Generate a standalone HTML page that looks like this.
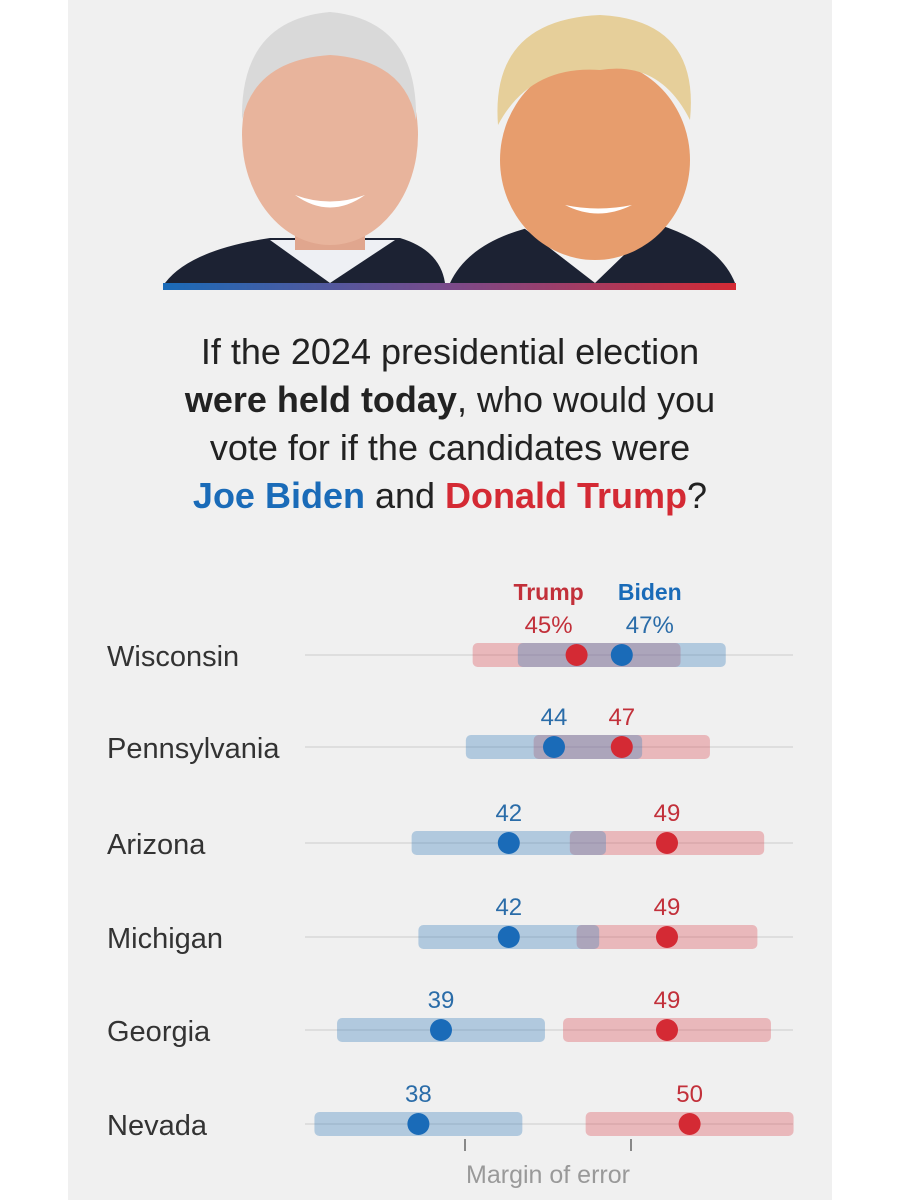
<!DOCTYPE html>
<html><head><meta charset="utf-8"><style>
body{margin:0;background:#fff;font-family:"Liberation Sans",sans-serif}
#wrap{position:relative;width:900px;height:1200px;background:#fff;overflow:hidden}
#panel{position:absolute;left:68px;top:0;width:764px;height:1200px;background:#f0f0f0}
.title{position:absolute;left:68px;width:764px;top:328px;text-align:center;font-size:36px;line-height:48px;color:#222}
</style></head><body>
<div id="wrap">
<div id="panel"></div>
<svg width="900" height="300" style="position:absolute;left:0;top:0">
<defs><linearGradient id="g" x1="0" x2="1"><stop offset="0" stop-color="#1a6bb8"/><stop offset="0.5" stop-color="#7a4a8a"/><stop offset="1" stop-color="#d42a34"/></linearGradient></defs>
<g>
<path d="M165 283 Q190 250 270 238 L400 238 Q440 250 445 283Z" fill="#1c2233"/>
<path d="M270 240 L330 283 L395 240Z" fill="#eef0f4"/>
<rect x="295" y="200" width="70" height="50" fill="#e0a68e"/>
<ellipse cx="330" cy="135" rx="88" ry="110" fill="#e8b49c"/>
<path d="M242 120 Q240 20 330 12 Q418 20 416 120 Q405 60 330 55 Q255 60 242 120Z" fill="#d9d9d9"/>
<path d="M295 195 Q330 220 365 195 Q330 208 295 195Z" fill="#fff"/>
</g>
<g>
<path d="M450 283 Q470 240 540 225 L660 225 Q720 245 735 283Z" fill="#1c2233"/>
<path d="M520 225 L595 283 L655 225Z" fill="#f2f2f2"/>
<ellipse cx="595" cy="160" rx="95" ry="100" fill="#e79d6d"/>
<path d="M498 125 Q490 20 600 15 Q700 20 690 120 Q660 60 600 70 Q530 65 498 125Z" fill="#e6cf9a"/>
<path d="M565 205 Q598 222 632 205 Q598 212 565 205Z" fill="#fff"/>
</g>
<rect x="163" y="283" width="573" height="7" fill="url(#g)"/>
</svg>
<div class="title">If the 2024 presidential election<br><b>were held today</b>, who would you<br>vote for if the candidates were<br><b style="color:#1a6bb8">Joe Biden</b> and <b style="color:#d42a34">Donald Trump</b>?</div>
<svg id="chart" width="900" height="1200" style="position:absolute;left:0;top:0"></svg>
</div>
<script>
const states=["Wisconsin","Pennsylvania","Arizona","Michigan","Georgia","Nevada"];
const biden=[47,44,42,42,39,38];
const trump=[45,47,49,49,49,50];
const margins=[4.6,3.9,4.3,4.0,4.6,4.6];
const rowY=[655,747,843,937,1030,1124];
const NS="http://www.w3.org/2000/svg";
const svg=document.getElementById('chart');
function x(v){return 441+(v-39)*22.6;}
function mk(t,a,p){const e=document.createElementNS(NS,t);for(const k in a)e.setAttribute(k,a[k]);(p||svg).appendChild(e);return e;}
states.forEach((s,i)=>{
 const y=rowY[i];
 const g=mk('g',{});
 
 
 const lab=mk('text',{x:107,y:y+11,'font-size':29,fill:'#333','font-family':'Liberation Sans'},g);lab.textContent=s;
 
 
 const ln=mk('line',{x1:305,x2:793,y1:y,y2:y,stroke:'#d8d8d8','stroke-width':1.5},g);
 
 
 const m=margins[i];
 const r1=mk('rect',{x:x(trump[i]-m),y:y-12,width:x(trump[i]+m)-x(trump[i]-m),height:24,rx:5,fill:'rgba(220,80,90,0.35)'},g);
 
 
 const r2=mk('rect',{x:x(biden[i]-m),y:y-12,width:x(biden[i]+m)-x(biden[i]-m),height:24,rx:5,fill:'rgba(60,130,190,0.35)'},g);
 
 
 const c1=mk('circle',{cx:x(trump[i]),cy:y,r:11,fill:'#d42a34'},g);
 
 
 const c2=mk('circle',{cx:x(biden[i]),cy:y,r:11,fill:'#1a6bb8'},g);
 
 
 const suf=i===0?'%':'';
 const close=Math.abs(trump[i]-biden[i])<3;
 const off=close?28:0;
 const tOff=trump[i]<biden[i]?-off:off, bOff=-tOff;
 const t1=mk('text',{x:x(trump[i])+tOff,y:y-22,'font-size':24,fill:'#c2303a','text-anchor':'middle'},g);t1.textContent=trump[i]+suf;
 
 
 const t2=mk('text',{x:x(biden[i])+bOff,y:y-22,'font-size':24,fill:'#2a6ca8','text-anchor':'middle'},g);t2.textContent=biden[i]+suf;
 
 
 if(i===0){
  const h1=mk('text',{x:x(trump[i])+tOff,y:y-55,'font-size':23,'font-weight':'bold',fill:'#c2303a','text-anchor':'middle'},g);h1.textContent='Trump';
  
  
  const h2=mk('text',{x:x(biden[i])+bOff,y:y-55,'font-size':23,'font-weight':'bold',fill:'#1a6bb8','text-anchor':'middle'},g);h2.textContent='Biden';
  
  
 }
});
[465,631].forEach(tx=>{
 const t=mk('line',{x1:tx,x2:tx,y1:1139,y2:1151,stroke:'#888','stroke-width':2});
 
 
});
const me=mk('text',{x:548,y:1183,'font-size':25,fill:'#999','text-anchor':'middle'});me.textContent='Margin of error';


</script>
</body></html>
